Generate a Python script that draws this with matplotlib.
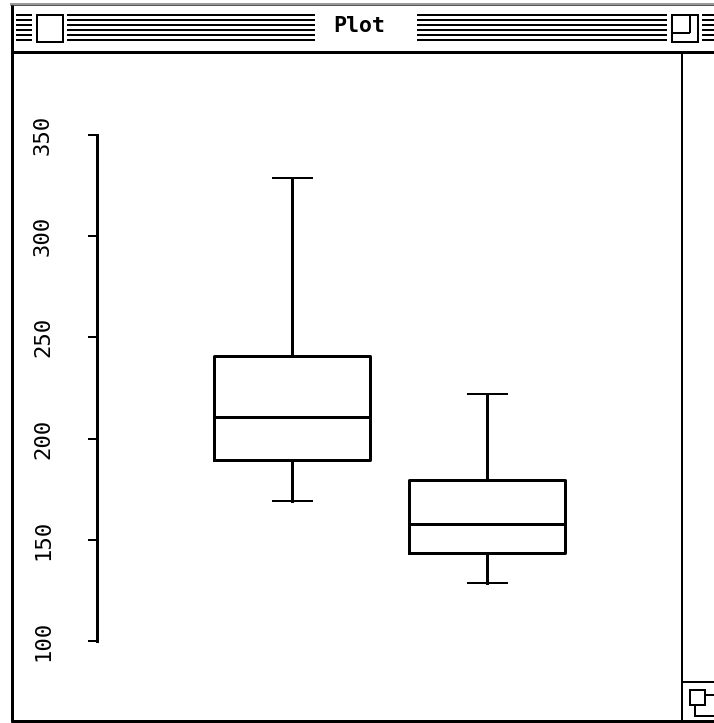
import matplotlib
matplotlib.use('Agg')
import matplotlib.pyplot as plt
from matplotlib.patches import Rectangle

# five-number summaries
groups = ['A', 'B']
whisker_low = [169.2, 128.7]
q1 = [189.4, 143.5]
median = [210.5, 157.8]
q3 = [240.8, 179.5]
whisker_high = [328.8, 222.0]

y_ticks = [100, 150, 200, 250, 300, 350]

W, H = 714, 723
PX = 72 / 100  # points per pixel at dpi 100

fig = plt.figure(figsize=(W / 100, H / 100), dpi=100)
fig.patch.set_facecolor('white')

# window chrome, drawn in pixel coordinates
win = fig.add_axes([0, 0, 1, 1])
win.set_xlim(0, W)
win.set_ylim(H, 0)
win.axis('off')


def hline(y, x0, x1, lw=2, color='black'):
    win.plot([x0, x1], [y, y], color=color, lw=lw * PX, solid_capstyle='butt')


def vline(x, y0, y1, lw=2, color='black'):
    win.plot([x, x], [y0, y1], color=color, lw=lw * PX, solid_capstyle='butt')


def box(x0, y0, x1, y1, lw=2):
    win.add_patch(Rectangle((x0, y0), x1 - x0, y1 - y0, fill=False,
                            edgecolor='black', lw=lw * PX, joinstyle='miter'))


# top shadow
hline(3.5, 10, W, lw=2, color='#9a9a9a')
hline(5, 10, W, lw=1, color='#555555')

# title bar stripes
stripe_y = [15, 20, 25, 30, 35, 40]
for y in stripe_y:
    hline(y, 16, 32)
    hline(y, 67, 315)
    hline(y, 417, 667)
    hline(y, 702, W)

# close box and zoom box
box(37, 15, 63, 42)
box(672, 15, 698, 42)
vline(690, 15, 33)
hline(33, 672, 690)

win.text(359, 32, 'Plot', ha='center', va='baseline', fontsize=15.5,
         fontweight='bold', family='DejaVu Sans Mono')

# frame
vline(12, 5, 722, lw=3)
hline(52, 12, W, lw=3)
hline(721, 11, W, lw=3)
vline(682, 52, 721, lw=2)
hline(682, 682, W, lw=2)

# grow box icon
box(690, 690, 705, 705)
vline(694.5, 705, 716)
hline(716, 694, W)
hline(695, 705, W)

# plot area
ax = fig.add_axes([97 / W, (H - 641) / H, (682 - 97) / W, 506 / H])
ax.patch.set_alpha(0)

stats = []
for i in range(len(groups)):
    stats.append({
        'label': groups[i],
        'whislo': whisker_low[i],
        'q1': q1[i],
        'med': median[i],
        'q3': q3[i],
        'whishi': whisker_high[i],
        'fliers': [],
    })

ax.bxp(
    stats,
    positions=[1, 2],
    widths=0.8,
    capwidths=0.2,
    showfliers=False,
    boxprops=dict(color='black', linewidth=3 * PX),
    medianprops=dict(color='black', linewidth=3 * PX),
    whiskerprops=dict(color='black', linewidth=3 * PX),
    capprops=dict(color='black', linewidth=2 * PX),
)

ax.set_xlim(0, 3)
ax.set_ylim(100, 350)

for side in ['top', 'right', 'bottom']:
    ax.spines[side].set_visible(False)
ax.spines['left'].set_linewidth(3 * PX)
ax.spines['left'].set_bounds(100, 350)

ax.set_xticks([])
ax.set_yticks(y_ticks)
ax.set_yticklabels([str(t) for t in y_ticks], rotation=90, va='center',
                   fontsize=16, family='DejaVu Sans Mono')
ax.tick_params(axis='y', length=9 * PX, width=2 * PX, pad=35 * PX)

plt.savefig('out.png', dpi=100)
plt.close()
